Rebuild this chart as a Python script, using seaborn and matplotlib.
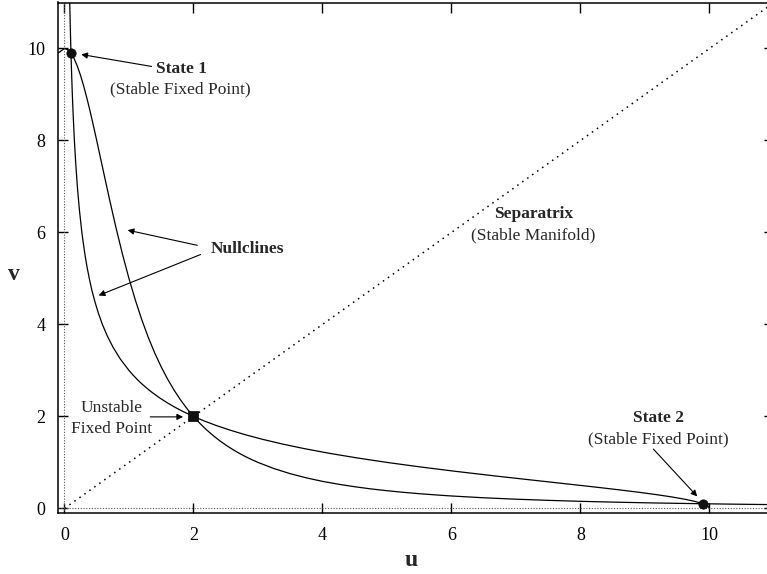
import matplotlib
matplotlib.use("Agg")
import matplotlib.pyplot as plt
import seaborn as sns
import pandas as pd

# Nullcline values (abscissa s, ordinate g)
curve_s = [-0.1, 0.0, 0.05, 0.1, 0.15, 0.2, 0.25, 0.3, 0.35, 0.4, 0.45, 0.5, 0.6,
           0.7, 0.8, 0.9, 1.0, 1.1, 1.2, 1.3, 1.4, 1.5, 1.6, 1.7, 1.8, 1.9, 2.0,
           2.1, 2.2, 2.3, 2.4, 2.5, 2.6, 2.7, 2.8, 2.9, 3.0, 3.25, 3.5, 3.75, 4.0,
           4.25, 4.5, 4.75, 5.0, 5.25, 5.5, 5.75, 6.0, 6.5, 7.0, 7.5, 8.0, 8.5,
           9.0, 9.5, 10.0, 10.5, 11.0]
curve_g = [9.90, 10.0, 9.975, 9.90, 9.780, 9.615, 9.412, 9.174, 8.909, 8.621,
           8.316, 8.0, 7.353, 6.711, 6.098, 5.525, 5.0, 4.525, 4.098, 3.717, 3.378,
           3.077, 2.809, 2.571, 2.358, 2.169, 2.0, 1.848, 1.712, 1.590, 1.479,
           1.379, 1.289, 1.206, 1.131, 1.063, 1.0, 0.865, 0.755, 0.664, 0.588,
           0.525, 0.471, 0.424, 0.385, 0.350, 0.320, 0.294, 0.270, 0.231, 0.200,
           0.175, 0.154, 0.137, 0.122, 0.110, 0.099, 0.090, 0.082]

# Separatrix (u = v)
sep_u = [0.0, 11.0]
sep_v = [0.0, 11.0]

# Fixed points
stable_u = [0.1, 9.9]
stable_v = [9.9, 0.1]
unstable_u = [2.0]
unstable_v = [2.0]

ticks = [0, 2, 4, 6, 8, 10]

sns.set_style("ticks")
plt.rcParams['font.family'] = ['Liberation Serif', 'DejaVu Serif']

fig = plt.figure(figsize=(7.67, 5.74), dpi=100)
W, H = 767, 574
left, right, bottom, top = 58, 774, 513, 2.5
ax = fig.add_axes([left / W, (H - bottom) / H, (right - left) / W, (bottom - top) / H])

dfA = pd.DataFrame({"u": curve_s, "v": curve_g})
sB = [s for s in curve_s if s >= 0]
gB = [g for s, g in zip(curve_s, curve_g) if s >= 0]
dfB = pd.DataFrame({"u": gB, "v": sB})

sns.lineplot(data=dfA, x="u", y="v", ax=ax, color="black", lw=0.9, sort=False, estimator=None)
sns.lineplot(data=dfB, x="u", y="v", ax=ax, color="black", lw=0.9, sort=False, estimator=None)
sns.lineplot(x=sep_u, y=sep_v, ax=ax, color="black", lw=1.1, linestyle=(0, (1, 3.0)))

# zero axes
ax.axhline(0, color="#555555", lw=0.8, linestyle=(0, (1, 1.5)))
ax.axvline(0, color="#555555", lw=0.8, linestyle=(0, (1, 1.5)))

sns.scatterplot(x=stable_u, y=stable_v, ax=ax, color="#111111", s=45, marker="o",
                edgecolor="black", linewidth=0.5, zorder=5)
sns.scatterplot(x=unstable_u, y=unstable_v, ax=ax, color="#111111", s=55, marker="s",
                edgecolor="black", linewidth=0.5, zorder=5)

ax.set_xlim(-0.1, 11.0)
ax.set_ylim(-0.1, 11.0)
ax.set_xticks(ticks)
ax.set_yticks(ticks)
ax.tick_params(direction="in", length=7, width=1, labelsize=13, top=True, right=True,
               colors="black")
ax.tick_params(axis="x", pad=10)
ax.tick_params(axis="y", pad=9)
for sp in ax.spines.values():
    sp.set_linewidth(1.1)
    sp.set_color("black")

ax.set_xlabel("u", fontsize=17, fontweight="bold", va="center", ha="center")
ax.xaxis.set_label_coords(0.493, -0.094)
ax.set_ylabel("v", fontsize=17, fontweight="bold", rotation=0, va="center", ha="center")
ax.yaxis.set_label_coords(-0.0615, 0.467)

fs = 12.5
arrow = dict(arrowstyle="-|>", lw=0.8, color="black", mutation_scale=9, shrinkA=0, shrinkB=0)

ax.text(1.81, 9.56, "State 1", fontsize=fs, fontweight="bold", ha="center", va="center")
ax.text(1.80, 9.10, "(Stable Fixed Point)", fontsize=fs, ha="center", va="center")
ax.annotate("", xy=(0.26, 9.87), xytext=(1.35, 9.61), arrowprops=arrow)

ax.text(2.84, 5.63, "Nullclines", fontsize=fs, fontweight="bold", ha="center", va="center")
ax.annotate("", xy=(0.98, 6.05), xytext=(2.06, 5.72), arrowprops=arrow)
ax.annotate("", xy=(0.53, 4.63), xytext=(2.11, 5.52), arrowprops=arrow)

ax.text(7.27, 6.40, "Separatrix", fontsize=fs, fontweight="bold", ha="center", va="center")
ax.text(7.27, 5.94, "(Stable Manifold)", fontsize=fs, ha="center", va="center")

ax.text(0.73, 2.18, "Unstable", fontsize=fs, ha="center", va="center")
ax.text(0.73, 1.72, "Fixed Point", fontsize=fs, ha="center", va="center")
ax.annotate("", xy=(1.84, 1.99), xytext=(1.33, 1.99), arrowprops=arrow)

ax.text(9.21, 1.97, "State 2", fontsize=fs, fontweight="bold", ha="center", va="center")
ax.text(9.21, 1.51, "(Stable Fixed Point)", fontsize=fs, ha="center", va="center")
ax.annotate("", xy=(9.81, 0.26), xytext=(9.13, 1.29), arrowprops=arrow)

fig.savefig("out.png", dpi=100)
